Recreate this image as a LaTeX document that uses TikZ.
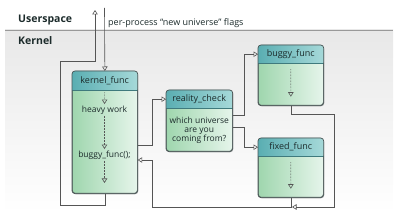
\documentclass[tikz,border=0pt]{standalone}
\usepackage{fontspec}
\setmainfont{Open Sans}
\usetikzlibrary{arrows.meta,calc,shadows}
\definecolor{bodyL}{HTML}{9FD6AE}
\definecolor{bodyR}{HTML}{E6F5EB}
\definecolor{headL}{HTML}{5AAEB2}
\definecolor{headR}{HTML}{A6D9D9}
\definecolor{boxborder}{HTML}{4A5656}
\definecolor{linec}{HTML}{555555}
\definecolor{txt}{HTML}{1C2B2B}
\tikzset{
  opentip/.style={-{Triangle[open,length=4.5pt,width=5.5pt]}},
  conn/.style={draw=linec, line width=0.6pt, opentip},
  dotarrow/.style={draw=linec, line width=0.6pt, dash pattern=on 0.6pt off 0.9pt, opentip},
  funcbox/.style={rectangle, rounded corners=3pt, draw=boxborder, line width=0.7pt,
    left color=bodyL, right color=bodyR, inner sep=0pt,
    drop shadow={opacity=0.25, shadow xshift=1pt, shadow yshift=-1pt}},
  headtext/.style={inner sep=0pt, font=\fontsize{9}{10}\selectfont, text=txt},
  bodytext/.style={inner sep=1.5pt, font=\fontsize{8.5}{9}\selectfont, text=txt, align=center},
  lbl/.style={inner sep=0pt, anchor=west, text=txt},
}
\newcommand\mkbox[7]{%
  \node[funcbox, minimum width=#4pt, minimum height=#5pt, anchor=north west] (#1) at (#2,#3) {};
  \begin{scope}
    \clip[rounded corners=3pt] (#1.north west) rectangle (#1.south east);
    \shade[left color=headL, right color=headR] (#1.north west) rectangle ($(#1.north east)+(0,#6)$);
  \end{scope}
  \draw[headL!70!black, line width=0.5pt] ($(#1.north west)+(0,#6)$) -- ($(#1.north east)+(0,#6)$);
  \draw[boxborder, line width=0.7pt, rounded corners=3pt] (#1.north west) rectangle (#1.south east);
  \node[headtext, minimum width=#4pt, minimum height=#6pt, anchor=north west] (#1h) at (#1.north west) {#7};
}
\begin{document}
\begin{tikzpicture}[x=1pt,y=-1pt]
\useasboundingbox (0,0) rectangle (400,219);
% kernel area
\shade[top color=black!9, bottom color=white] (5,30) rectangle (393,212);
\draw[black!40, line width=0.6pt] (5,30) -- (393,30);
\node[lbl, font=\fontsize{10.5}{12}\selectfont\bfseries] (us) at (18,20) {Userspace};
\node[lbl, font=\fontsize{10.5}{12}\selectfont\bfseries] (ke) at (18,41) {Kernel};
\node[lbl, font=\fontsize{9}{10}\selectfont] (flags) at (108,23) {per-process “new universe” flags};

% boxes
\mkbox{kf}{72}{71}{65}{122}{19}{kernel\_func}
\mkbox{rc}{166}{90}{66}{61}{18}{reality\_check}
\mkbox{bf}{258}{45}{65}{60}{18}{buggy\_func}
\mkbox{ff}{258}{138}{65}{59}{18}{fixed\_func}

% inner texts
\node[bodytext] (hw) at (104.5,110) {heavy work};
\node[bodytext] (bfc) at (104.5,155) {buggy\_func();};
\coordinate (kfend) at (104.5,183);
\node[bodytext, inner sep=0pt] (rct) at ($(rc.south)!0.5!(rch.south)$) {which universe\\are you\\coming from?};

% inner dotted arrows
\draw[dotarrow] ($(kfh.south)+(0,2)$) -- (hw.north);
\draw[dotarrow] (hw.south) -- (bfc.north);
\draw[dotarrow] (bfc.south) -- (kfend);
\draw[dotarrow] ($(bfh.south)+(0,6)$) -- ($(bf.south)+(0,-9)$);
\draw[dotarrow] ($(ffh.south)+(0,6)$) -- ($(ff.south)+(0,-9)$);

% connectors
\coordinate (utop) at (104.5,8);
\coordinate (uup) at (95,10);
\draw[conn] (utop) -- (kf.north);
\draw[conn] (kf.south) -- ++(0,12) -| (60,61) -| (uup);
\draw[conn] ($(kf.north east)+(0,74)$) -| ($(rch.west)+(-14,0)$) -- (rch.west);
\draw[conn] ($(rc.north east)+(0,25)$) -| ($(bfh.west)+(-14,0)$) -- (bfh.west);
\draw[conn] ($(rc.north east)+(0,37)$) -| ($(ffh.west)+(-14,0)$) -- (ffh.west);
\coordinate (mg) at (292,207);
\draw[conn] (bf.south) -- ++(0,9) -| (334,207) -- (mg);
\draw[conn] (ff.south) -- ++(0,10) -| ($(kf.north east)+(15,89)$) -- ($(kf.north east)+(0,89)$);
\end{tikzpicture}
\end{document}
